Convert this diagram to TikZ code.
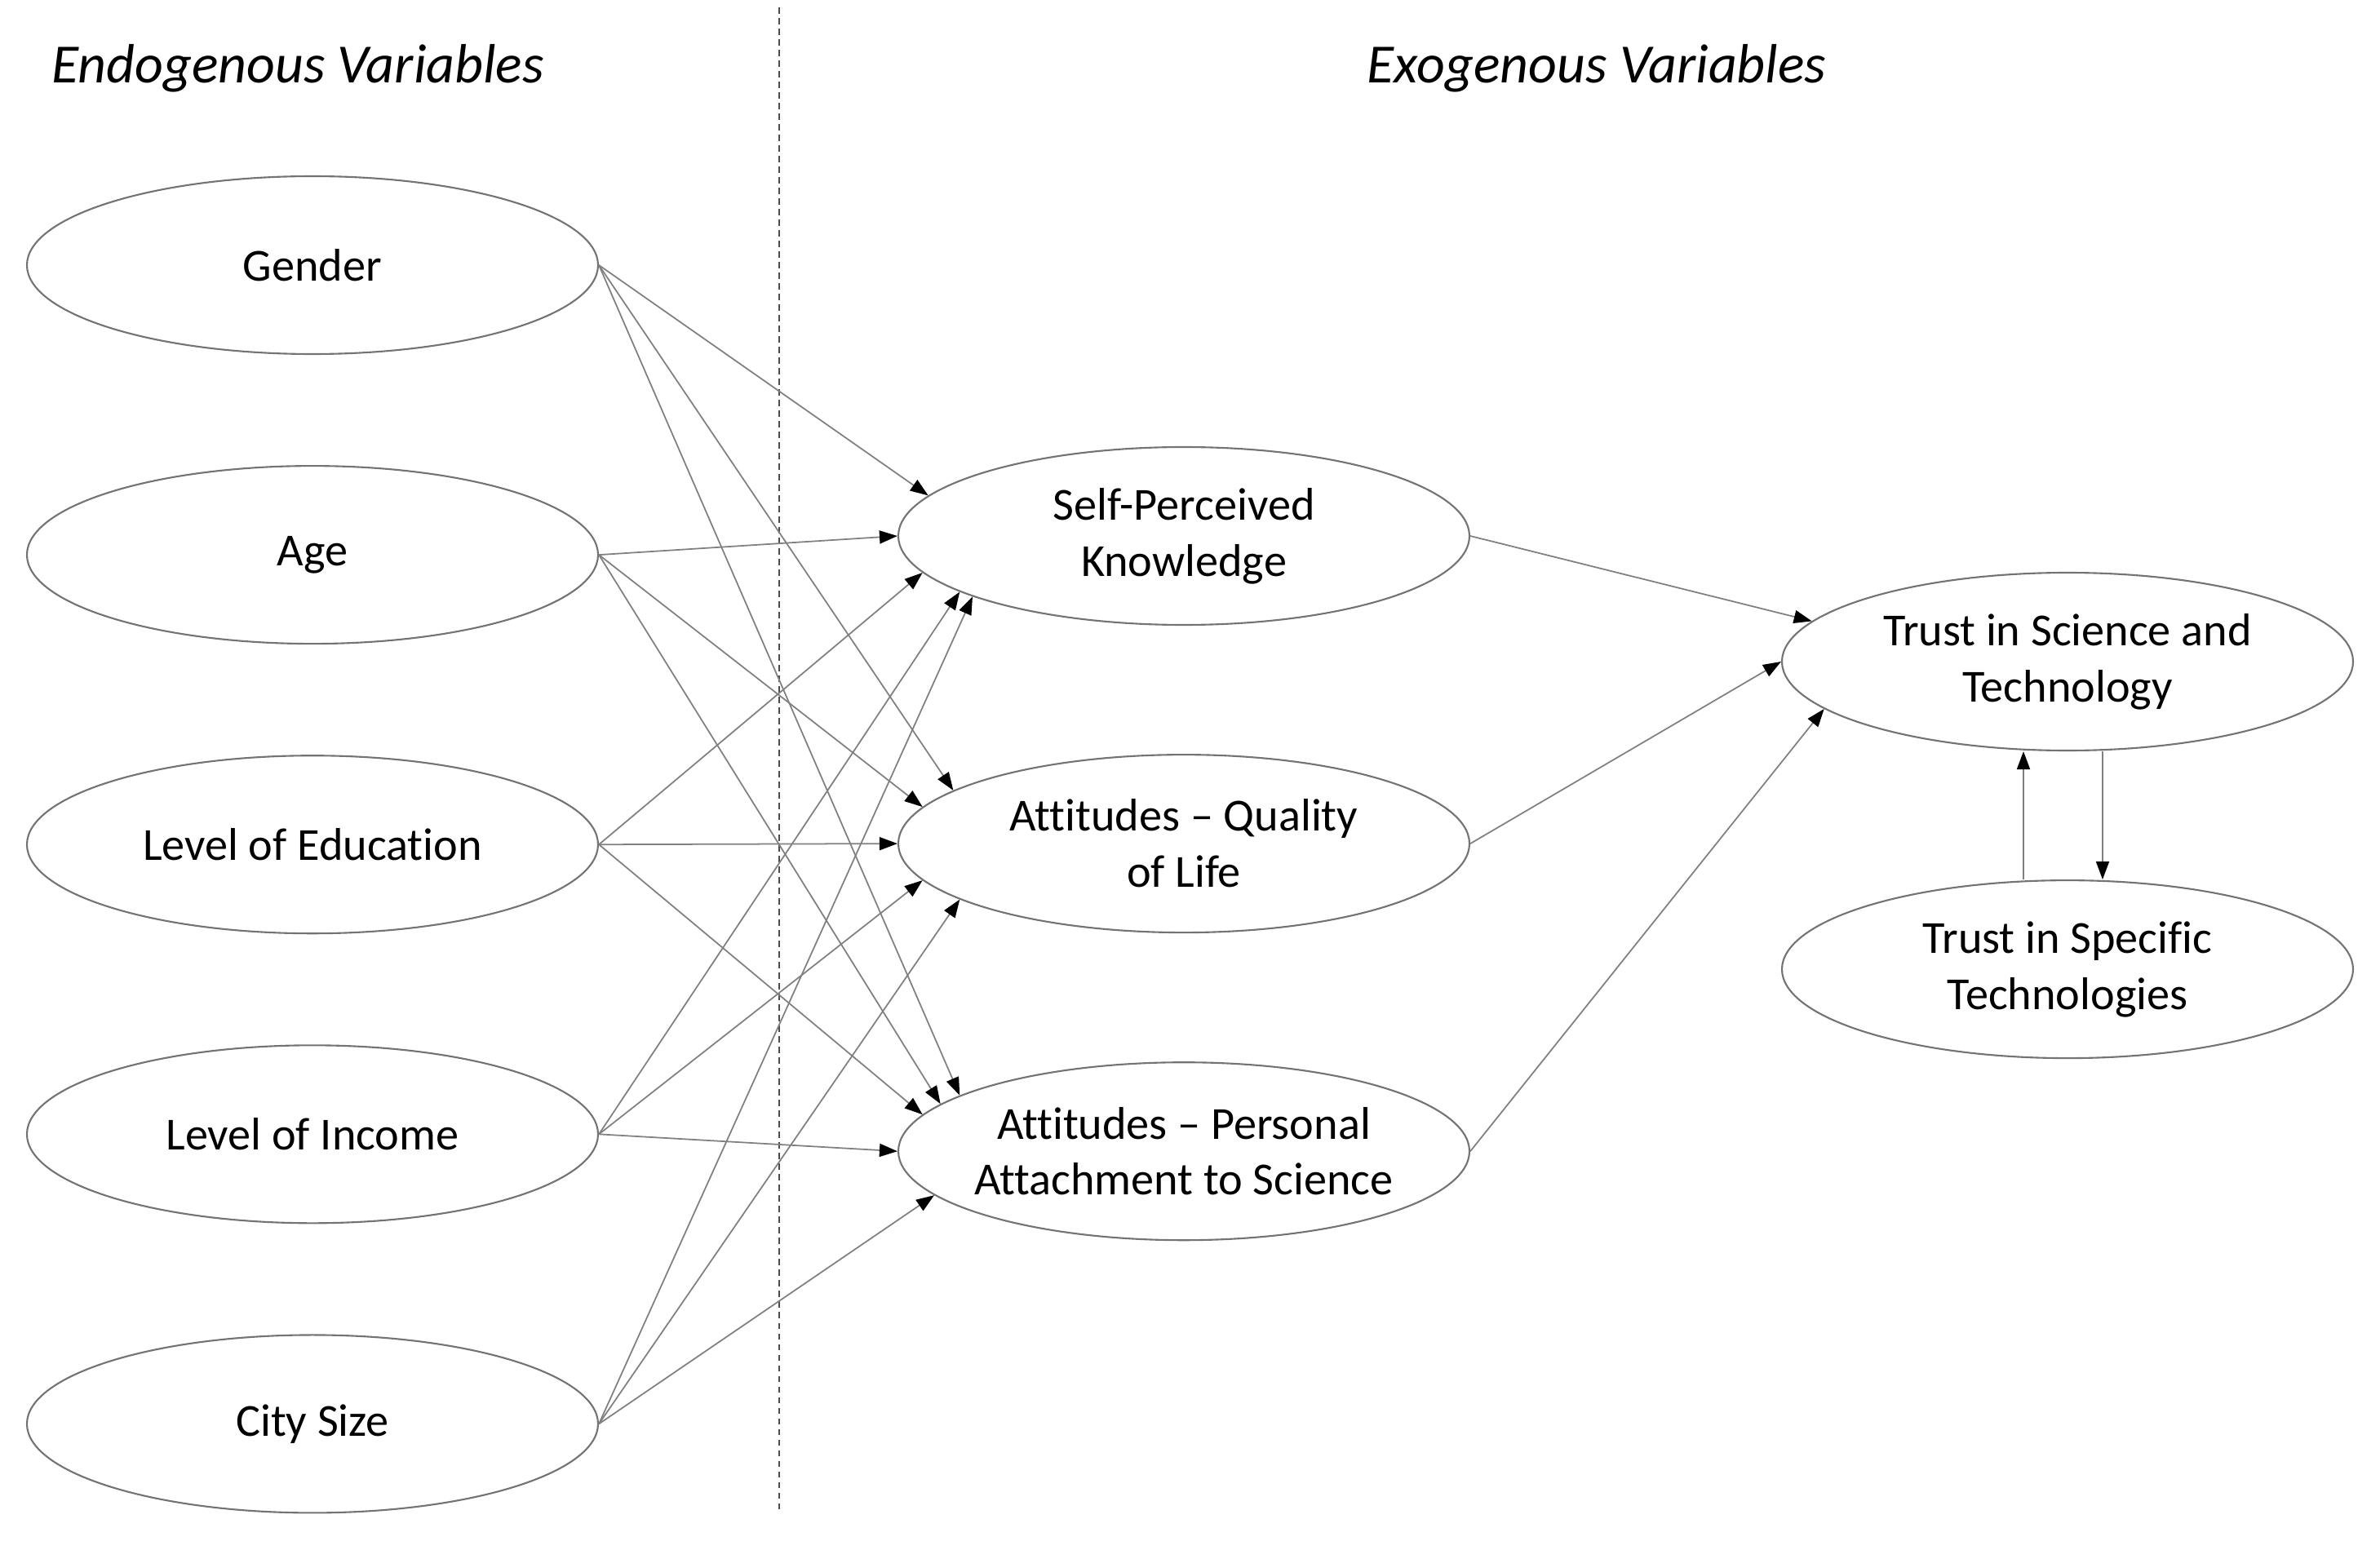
\documentclass[tikz,border=0pt]{standalone}
\usepackage{fontspec}
\setmainfont{Carlito}[Ligatures=NoCommon]
\usetikzlibrary{arrows.meta,positioning,shapes.geometric}

\begin{document}
\begin{tikzpicture}[node distance=1.35cm, every node/.style={font=\fontsize{16}{19.6}\selectfont}, var/.style={draw=black!55, line width=0.6pt, ellipse, minimum width=7cm, minimum height=2.18cm, inner xsep=-0.6cm, inner ysep=0pt, align=center}, head/.style={font=\fontsize{19.3}{23}\selectfont\itshape, anchor=base}, arr/.style={-{Triangle[length=2.2mm, width=1.6mm, color=black]}, draw=black!50, line width=0.5pt}, divider/.style={draw=black!70, line width=0.6pt, dash pattern=on 2.2pt off 1.5pt}]
\useasboundingbox (0,0) rectangle (29.17,-19);
\node[head] (endo) at (3.65,-1.02) {Endogenous Variables};
\node[head] (exo) at (19.57,-1.02) {Exogenous Variables};
\coordinate (divtop) at (9.55,-0.09);
\coordinate (divbot) at (9.55,-18.55);
\draw[divider] (divtop) -- (divbot);
\node[var] (gender) at (3.83,-3.25) {Gender};
\node[var, below=of gender] (age) {Age};
\node[var, below=of age] (edu) {Level of Education};
\node[var, below=of edu] (income) {Level of Income};
\node[var, below=of income] (city) {City Size};
\node[var] (know) at (14.51,-6.57) {Self-Perceived\\Knowledge};
\node[var, below=1.57cm of know] (qol) {Attitudes -- Quality\\of Life};
\node[var, below=1.57cm of qol] (attach) {Attitudes -- Personal\\Attachment to Science};
\node[var] (trust) at (25.34,-8.11) {Trust in Science and\\Technology};
\node[var, below=1.57cm of trust] (spec) {Trust in Specific\\Technologies};
\draw[arr] (gender.east) -- (know.171); \draw[arr] (gender.east) -- (qol.167); \draw[arr] (gender.east) -- (attach.166);
\draw[arr] (age.east) -- (know.180); \draw[arr] (age.east) -- (qol.172); \draw[arr] (age.east) -- (attach.169);
\draw[arr] (edu.east) -- (know.188); \draw[arr] (edu.east) -- (qol.180); \draw[arr] (edu.east) -- (attach.172);
\draw[arr] (income.east) -- (know.194); \draw[arr] (income.east) -- (qol.188); \draw[arr] (income.east) -- (attach.180);
\draw[arr] (city.east) -- (know.196); \draw[arr] (city.east) -- (qol.194); \draw[arr] (city.east) -- (attach.190);
\draw[arr] (know.east) -- (trust.171); \draw[arr] (qol.east) -- (trust.180); \draw[arr] (attach.east) -- (trust.191);
\draw[arr] ([xshift=-5.4mm]spec.north) -- ([xshift=-5.4mm]trust.south);
\draw[arr] ([xshift=4.3mm]trust.south) -- ([xshift=4.3mm]spec.north);
\end{tikzpicture}
\end{document}
